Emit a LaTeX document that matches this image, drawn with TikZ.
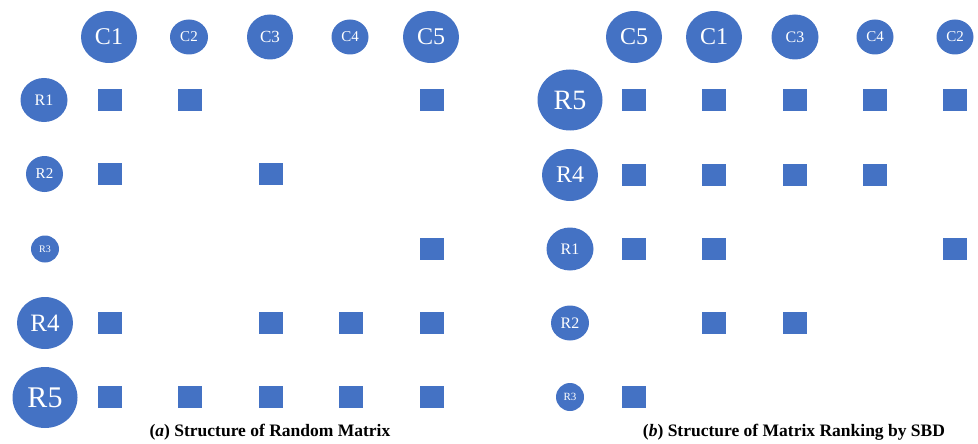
\documentclass[tikz,border=0pt]{standalone}
\usepackage{fontspec}
\setmainfont{Liberation Serif}
\usetikzlibrary{shapes.geometric}
\definecolor{oblue}{HTML}{4472C4}
\tikzset{
  blob/.style={ellipse, fill=oblue, text=white, inner sep=0pt},
  cell/.style={rectangle, fill=oblue, minimum width=24pt, minimum height=22pt, inner sep=0pt},
  captiontext/.style={font=\fontsize{17.5}{19}\selectfont\bfseries, inner sep=0pt}
}
\newcommand{\fs}[1]{\fontsize{#1}{#1}\selectfont}
\begin{document}
\begin{tikzpicture}[x=1pt, y=-1pt]
\useasboundingbox (0,0) rectangle (978,444);
% ---------- left panel ----------
\node[blob, minimum width=56pt, minimum height=52pt, font=\fs{24}] (aC1) at (109,37) {C1};
\node[blob, minimum width=38pt, minimum height=35pt, font=\fs{15}] (aC2) at (189,37) {C2};
\node[blob, minimum width=46pt, minimum height=45pt, font=\fs{17}] (aC3) at (270,37) {C3};
\node[blob, minimum width=37pt, minimum height=35pt, font=\fs{15}] (aC4) at (350,37) {C4};
\node[blob, minimum width=56pt, minimum height=52pt, font=\fs{24}] (aC5) at (431,37) {C5};
\node[blob, minimum width=47pt, minimum height=44pt, font=\fs{16}] (aR1) at (44,100) {R1};
\node[blob, minimum width=37pt, minimum height=36pt, font=\fs{15}] (aR2) at (44.5,174) {R2};
\node[blob, minimum width=28pt, minimum height=27pt, font=\fs{10}] (aR3) at (45,249) {R3};
\node[blob, minimum width=56pt, minimum height=52pt, font=\fs{25}] (aR4) at (45,323) {R4};
\node[blob, minimum width=65pt, minimum height=61pt, font=\fs{30}] (aR5) at (45,397.5) {R5};
% cells (a)
\foreach \r/\y/\cols in {1/100/{1,2,5}, 2/174/{1,3}, 3/249/{5}, 4/323/{1,3,4,5}, 5/397/{1,2,3,4,5}}{
  \foreach \c in \cols {
    \pgfmathsetmacro{\xx}{109.5+80.5*(\c-1)}
    \node[cell] (a\r\c) at (\xx,\y) {};
  }
}
\node[captiontext] (capa) at (270,432) {(\textit{a}) Structure of Random Matrix};
% ---------- right panel ----------
\node[blob, minimum width=56pt, minimum height=52pt, font=\fs{24}] (bC5) at (634,37) {C5};
\node[blob, minimum width=56pt, minimum height=52pt, font=\fs{24}] (bC1) at (714,37) {C1};
\node[blob, minimum width=47pt, minimum height=45pt, font=\fs{16}] (bC3) at (795,37) {C3};
\node[blob, minimum width=37pt, minimum height=35pt, font=\fs{15}] (bC4) at (875,37) {C4};
\node[blob, minimum width=37pt, minimum height=35pt, font=\fs{15}] (bC2) at (955,37) {C2};
\node[blob, minimum width=65pt, minimum height=61pt, font=\fs{28}] (bR5) at (570,100) {R5};
\node[blob, minimum width=56pt, minimum height=52pt, font=\fs{24}] (bR4) at (570,175) {R4};
\node[blob, minimum width=47pt, minimum height=43pt, font=\fs{16}] (bR1) at (570,249) {R1};
\node[blob, minimum width=38pt, minimum height=35pt, font=\fs{16}] (bR2) at (570,323) {R2};
\node[blob, minimum width=28pt, minimum height=28pt, font=\fs{11}] (bR3) at (570,397) {R3};
% cells (b)
\foreach \r/\y/\cols in {5/100/{1,2,3,4,5}, 4/175/{1,2,3,4}, 1/249/{1,2,5}, 2/323/{2,3}, 3/397/{1}}{
  \foreach \c in \cols {
    \pgfmathsetmacro{\xx}{634+80.25*(\c-1)}
    \node[cell] (b\r\c) at (\xx,\y) {};
  }
}
\node[captiontext] (capb) at (794,432) {(\textit{b}) Structure of Matrix Ranking by SBD};
\end{tikzpicture}
\end{document}
